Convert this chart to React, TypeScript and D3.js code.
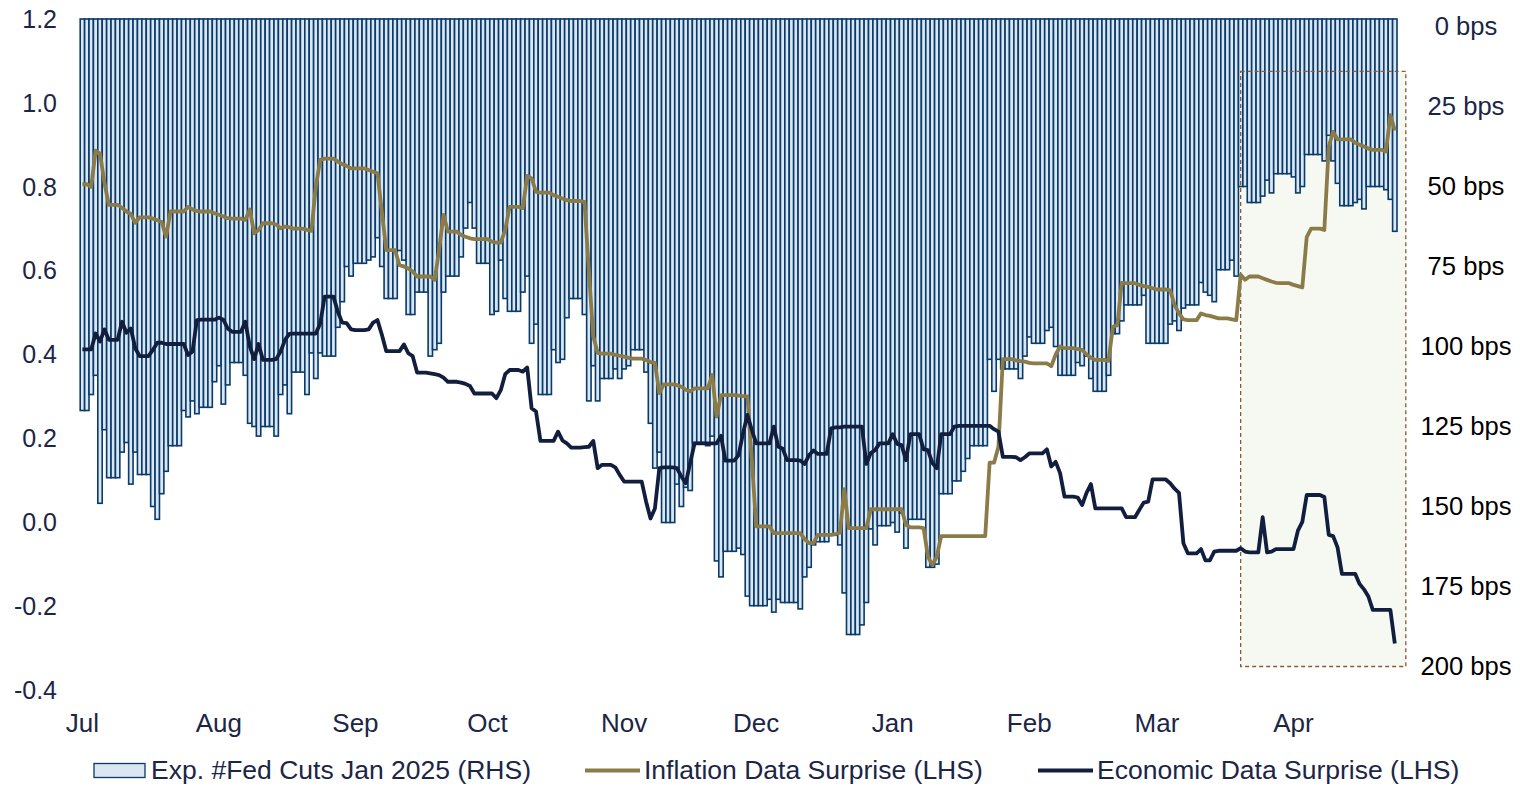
import React, { useEffect, useRef } from 'react';
import * as d3 from 'd3';

// daily series, Sat 1 Jul 2023 .. Wed 24 Apr 2024 (one row = one week, Sat..Fri)
const firstDay = new Date(Date.UTC(2023, 6, 1));
const lastDay = new Date(Date.UTC(2024, 3, 24));

const monthStarts = [
  Date.UTC(2023, 6, 1), Date.UTC(2023, 7, 1), Date.UTC(2023, 8, 1), Date.UTC(2023, 9, 1),
  Date.UTC(2023, 10, 1), Date.UTC(2023, 11, 1), Date.UTC(2024, 0, 1), Date.UTC(2024, 1, 1),
  Date.UTC(2024, 2, 1), Date.UTC(2024, 3, 1),
];
const monthLabels = ['Jul', 'Aug', 'Sep', 'Oct', 'Nov', 'Dec', 'Jan', 'Feb', 'Mar', 'Apr'];
const leftTicks = [-0.4, -0.2, 0, 0.2, 0.4, 0.6, 0.8, 1.0, 1.2];
const rightTicks = [0, 25, 50, 75, 100, 125, 150, 175, 200];

const fedCutsBps = [
  120, 120, 115, 109, 149, 126, 141,
  141, 141, 133, 130, 143, 133, 140,
  140, 140, 150, 154, 146, 139, 131,
  131, 131, 120, 122, 117, 121, 119,
  119, 119, 111, 106, 118, 112, 105,
  105, 105, 109, 124, 125, 128, 125,
  125, 125, 128, 115, 112, 121, 108,
  108, 108, 115, 102, 110, 102, 103,
  103, 103, 94, 86, 75, 78, 74,
  74, 74, 73, 72, 66, 75, 85,
  85, 85, 70, 73, 90, 90, 83,
  83, 83, 103, 101, 99, 83, 78,
  78, 78, 72, 63, 55, 63, 74,
  74, 74, 90, 89, 73, 85, 89,
  89, 89, 83, 78, 99, 93, 115,
  115, 115, 101, 105, 104, 91, 85,
  85, 85, 90, 117, 106, 117, 110,
  110, 110, 107, 110, 107, 106, 101,
  101, 101, 108, 124, 138, 133, 155,
  155, 155, 143, 150, 144, 145, 130,
  130, 130, 131, 128, 167, 172, 164,
  164, 164, 163, 165, 178, 181, 181,
  181, 181, 179, 183, 179, 180, 180,
  180, 180, 182, 172, 169, 162, 161,
  161, 161, 159, 159, 162, 177, 190,
  190, 190, 187, 180, 157, 162, 156,
  156, 156, 155, 158, 152, 163, 154,
  154, 154, 154, 169, 169, 168, 146,
  146, 146, 142, 142, 139, 135, 131,
  131, 131, 131, 104, 114, 104, 107,
  107, 107, 107, 110, 103, 97, 99,
  99, 99, 95, 94, 100, 109, 109,
  109, 109, 105, 106, 103, 110, 114,
  114, 114, 109, 96, 96, 92, 87,
  87, 87, 87, 84, 99, 99, 99,
  99, 99, 93, 92, 95, 88, 87,
  87, 87, 80, 83, 84, 86, 76,
  76, 76, 73, 78, 50, 50, 55,
  55, 55, 53, 48, 52, 46, 46,
  46, 46, 47, 52, 50, 40, 40,
  40, 40, 42, 34, 42, 49, 56,
  56, 56, 55, 54, 57, 50, 50,
  50, 50, 51, 54, 64,
];

const inflationSurprise = [
  0.806, 0.806, 0.800, 0.886, 0.879, 0.810, 0.757,
  0.757, 0.757, 0.750, 0.741, 0.735, 0.714, 0.727,
  0.727, 0.727, 0.724, 0.720, 0.716, 0.681, 0.741,
  0.741, 0.741, 0.741, 0.752, 0.746, 0.742, 0.741,
  0.741, 0.741, 0.737, 0.733, 0.729, 0.725, 0.724,
  0.724, 0.724, 0.721, 0.746, 0.689, 0.697, 0.713,
  0.713, 0.713, 0.710, 0.701, 0.705, 0.703, 0.700,
  0.700, 0.700, 0.697, 0.695, 0.800, 0.864, 0.867,
  0.867, 0.867, 0.860, 0.854, 0.850, 0.844, 0.844,
  0.844, 0.844, 0.840, 0.836, 0.832, 0.740, 0.649,
  0.649, 0.649, 0.613, 0.610, 0.605, 0.598, 0.586,
  0.586, 0.586, 0.586, 0.578, 0.650, 0.733, 0.693,
  0.693, 0.693, 0.685, 0.681, 0.677, 0.675, 0.675,
  0.675, 0.675, 0.669, 0.667, 0.667, 0.697, 0.752,
  0.752, 0.752, 0.749, 0.826, 0.820, 0.788, 0.786,
  0.786, 0.786, 0.780, 0.776, 0.772, 0.768, 0.766,
  0.766, 0.766, 0.764, 0.600, 0.443, 0.404, 0.402,
  0.402, 0.402, 0.399, 0.397, 0.395, 0.392, 0.390,
  0.390, 0.390, 0.387, 0.382, 0.380, 0.308, 0.329,
  0.329, 0.329, 0.327, 0.323, 0.316, 0.312, 0.319,
  0.319, 0.319, 0.319, 0.351, 0.252, 0.303, 0.303,
  0.303, 0.303, 0.302, 0.301, 0.300, 0.150, -0.010,
  -0.010, -0.010, -0.010, -0.026, -0.026, -0.026, -0.026,
  -0.026, -0.026, -0.026, -0.040, -0.050, -0.050, -0.030,
  -0.030, -0.030, -0.030, -0.028, -0.025, 0.079, -0.014,
  -0.014, -0.014, -0.014, -0.014, 0.031, 0.031, 0.031,
  0.031, 0.031, 0.031, 0.031, 0.031, -0.006, -0.012,
  -0.012, -0.012, -0.014, -0.082, -0.102, -0.082, -0.033,
  -0.033, -0.033, -0.033, -0.033, -0.033, -0.033, -0.033,
  -0.033, -0.033, -0.033, 0.142, 0.142, 0.180, 0.389,
  0.389, 0.389, 0.386, 0.384, 0.383, 0.380, 0.379,
  0.379, 0.379, 0.379, 0.372, 0.400, 0.419, 0.415,
  0.415, 0.415, 0.413, 0.411, 0.400, 0.392, 0.387,
  0.387, 0.387, 0.385, 0.466, 0.470, 0.571, 0.570,
  0.570, 0.570, 0.566, 0.563, 0.561, 0.558, 0.555,
  0.555, 0.555, 0.553, 0.518, 0.498, 0.484, 0.482,
  0.482, 0.482, 0.498, 0.494, 0.492, 0.489, 0.486,
  0.486, 0.486, 0.484, 0.482, 0.590, 0.578, 0.586,
  0.586, 0.586, 0.582, 0.578, 0.574, 0.571, 0.570,
  0.570, 0.570, 0.566, 0.563, 0.560, 0.680, 0.700,
  0.700, 0.700, 0.697, 0.896, 0.931, 0.913, 0.913,
  0.913, 0.913, 0.905, 0.900, 0.896, 0.891, 0.888,
  0.888, 0.888, 0.884, 0.971, 0.934,
];

const economicSurprise = [
  0.412, 0.412, 0.412, 0.450, 0.431, 0.460, 0.435,
  0.435, 0.435, 0.478, 0.452, 0.462, 0.415, 0.396,
  0.396, 0.396, 0.411, 0.428, 0.428, 0.425, 0.425,
  0.425, 0.425, 0.425, 0.399, 0.407, 0.482, 0.483,
  0.483, 0.483, 0.483, 0.488, 0.483, 0.462, 0.454,
  0.454, 0.454, 0.478, 0.420, 0.389, 0.425, 0.387,
  0.387, 0.387, 0.389, 0.407, 0.435, 0.449, 0.450,
  0.450, 0.450, 0.450, 0.450, 0.450, 0.474, 0.538,
  0.538, 0.538, 0.502, 0.476, 0.475, 0.460, 0.458,
  0.458, 0.458, 0.460, 0.476, 0.482, 0.447, 0.408,
  0.408, 0.408, 0.408, 0.424, 0.403, 0.396, 0.357,
  0.357, 0.357, 0.355, 0.353, 0.351, 0.345, 0.335,
  0.335, 0.335, 0.333, 0.330, 0.325, 0.307, 0.307,
  0.307, 0.307, 0.307, 0.296, 0.315, 0.353, 0.363,
  0.363, 0.363, 0.359, 0.369, 0.272, 0.264, 0.194,
  0.194, 0.194, 0.194, 0.216, 0.195, 0.188, 0.178,
  0.178, 0.178, 0.179, 0.180, 0.194, 0.129, 0.137,
  0.137, 0.137, 0.131, 0.113, 0.097, 0.097, 0.097,
  0.097, 0.097, 0.049, 0.009, 0.033, 0.129, 0.131,
  0.131, 0.131, 0.129, 0.109, 0.093, 0.141, 0.188,
  0.188, 0.188, 0.188, 0.188, 0.188, 0.206, 0.147,
  0.147, 0.147, 0.160, 0.212, 0.256, 0.220, 0.188,
  0.188, 0.188, 0.188, 0.228, 0.180, 0.176, 0.148,
  0.148, 0.148, 0.147, 0.139, 0.160, 0.171, 0.163,
  0.163, 0.163, 0.224, 0.226, 0.226, 0.228, 0.228,
  0.228, 0.228, 0.228, 0.139, 0.165, 0.172, 0.188,
  0.188, 0.188, 0.210, 0.187, 0.184, 0.148, 0.210,
  0.210, 0.210, 0.174, 0.172, 0.141, 0.129, 0.210,
  0.210, 0.210, 0.228, 0.230, 0.230, 0.230, 0.230,
  0.230, 0.230, 0.230, 0.230, 0.222, 0.216, 0.156,
  0.156, 0.156, 0.155, 0.148, 0.155, 0.164, 0.164,
  0.164, 0.164, 0.174, 0.133, 0.144, 0.117, 0.061,
  0.061, 0.061, 0.059, 0.041, 0.070, 0.091, 0.033,
  0.033, 0.033, 0.033, 0.033, 0.033, 0.033, 0.012,
  0.012, 0.012, 0.030, 0.047, 0.049, 0.102, 0.102,
  0.102, 0.102, 0.093, 0.080, 0.070, -0.050, -0.074,
  -0.074, -0.074, -0.064, -0.091, -0.091, -0.070, -0.068,
  -0.068, -0.068, -0.068, -0.068, -0.062, -0.070, -0.072,
  -0.072, -0.072, 0.012, -0.072, -0.070, -0.064, -0.064,
  -0.064, -0.064, -0.064, -0.020, 0.001, 0.065, 0.065,
  0.065, 0.065, 0.060, -0.030, -0.033, -0.060, -0.123,
  -0.123, -0.123, -0.123, -0.147, -0.160, -0.177, -0.209,
  -0.209, -0.209, -0.209, -0.209, -0.289,
];

// shaded "recent" window (dates and bps)
const highlightFrom = Date.UTC(2024, 2, 20);
const highlightTo = Date.UTC(2024, 3, 26, 12);
const highlightTopBps = 14;
const highlightBottomBps = 200;

const legendItems = [
  { label: 'Exp. #Fed Cuts Jan 2025 (RHS)', kind: 'bar', x: 94 },
  { label: 'Inflation Data Surprise (LHS)', kind: 'gold', x: 585 },
  { label: 'Economic Data Surprise (LHS)', kind: 'navy', x: 1038 },
];

const FONT = '"Liberation Sans", Arial, sans-serif';
const NAVY_TEXT = '#1b2646';
const BAR_FILL = '#dae6f2';
const BAR_STROKE = '#083a6a';
const GOLD = '#8b7b49';
const NAVY = '#121e3e';

export default function App() {
  const ref = useRef(null);

  useEffect(() => {
    const width = 1521,
      height = 787;
    const plotTop = 19,
      plotBottom = 690;

    const svg = d3.select(ref.current);
    svg.selectAll('*').remove();

    const days = d3.utcDays(firstDay, d3.utcDay.offset(lastDay, 1));

    const x = d3.scaleUtc().domain([firstDay, lastDay]).range([82.4, 1394.8]);
    const step = x(days[1]) - x(days[0]);

    const yLeft = d3.scaleLinear().domain([-0.4, 1.2]).range([plotBottom, plotTop]);
    // reversed right axis: 0 bps at top
    const yRight = d3.scaleLinear().domain([0, 200]).range([26.5, 666.5]);

    // highlight box fill behind bars
    const hx0 = x(new Date(highlightFrom)),
      hx1 = x(new Date(highlightTo));
    const hy0 = yRight(highlightTopBps),
      hy1 = yRight(highlightBottomBps);
    svg
      .append('rect')
      .attr('x', hx0)
      .attr('y', hy0)
      .attr('width', hx1 - hx0)
      .attr('height', hy1 - hy0)
      .attr('fill', '#f6f9f1');

    // bars hang from the top
    svg
      .append('g')
      .selectAll('rect')
      .data(days)
      .join('rect')
      .attr('x', d => x(d) - step / 2)
      .attr('y', plotTop)
      .attr('width', step)
      .attr('height', (d, i) => yRight(fedCutsBps[i]) - plotTop)
      .attr('fill', BAR_FILL)
      .attr('stroke', BAR_STROKE)
      .attr('stroke-width', 1.6);

    // dashed border on top of bars
    svg
      .append('rect')
      .attr('x', hx0)
      .attr('y', hy0)
      .attr('width', hx1 - hx0)
      .attr('height', hy1 - hy0)
      .attr('fill', 'none')
      .attr('stroke', '#8a5a3a')
      .attr('stroke-width', 1.3)
      .attr('stroke-dasharray', '4,3');

    const line = (values) =>
      d3
        .line()
        .x((d, i) => x(days[i]))
        .y(d => yLeft(d))(values);

    svg
      .append('path')
      .attr('d', line(inflationSurprise))
      .attr('fill', 'none')
      .attr('stroke', GOLD)
      .attr('stroke-width', 3.8)
      .attr('stroke-linejoin', 'round');

    svg
      .append('path')
      .attr('d', line(economicSurprise))
      .attr('fill', 'none')
      .attr('stroke', NAVY)
      .attr('stroke-width', 3.8)
      .attr('stroke-linejoin', 'round');

    // left axis labels (plain hyphen for negatives)
    svg
      .append('g')
      .selectAll('text')
      .data(leftTicks)
      .join('text')
      .attr('x', 57)
      .attr('y', d => yLeft(d))
      .attr('dy', '0.35em')
      .attr('text-anchor', 'end')
      .attr('font-size', 25)
      .attr('fill', NAVY_TEXT)
      .text(d => d.toFixed(1));

    // right axis labels
    svg
      .append('g')
      .selectAll('text')
      .data(rightTicks)
      .join('text')
      .attr('x', 1466)
      .attr('y', d => yRight(d))
      .attr('dy', '0.35em')
      .attr('text-anchor', 'middle')
      .attr('font-size', 25.6)
      .attr('fill', d => (d < 50 ? NAVY_TEXT : '#000'))
      .text(d => d + ' bps');

    // month labels
    svg
      .append('g')
      .selectAll('text')
      .data(monthStarts)
      .join('text')
      .attr('x', d => x(new Date(d)))
      .attr('y', 723)
      .attr('dy', '0.35em')
      .attr('text-anchor', 'middle')
      .attr('font-size', 26)
      .attr('fill', NAVY_TEXT)
      .text((d, i) => monthLabels[i]);

    // legend
    const lg = svg.append('g');
    legendItems.forEach(item => {
      if (item.kind === 'bar') {
        lg.append('rect')
          .attr('x', item.x)
          .attr('y', 763.5)
          .attr('width', 51)
          .attr('height', 14)
          .attr('fill', BAR_FILL)
          .attr('stroke', BAR_STROKE)
          .attr('stroke-width', 1.3);
      } else {
        lg.append('line')
          .attr('x1', item.x)
          .attr('x2', item.x + 55)
          .attr('y1', 770.5)
          .attr('y2', 770.5)
          .attr('stroke', item.kind === 'gold' ? GOLD : NAVY)
          .attr('stroke-width', 4);
      }
      lg.append('text')
        .attr('x', item.kind === 'bar' ? item.x + 57 : item.x + 59)
        .attr('y', 770)
        .attr('dy', '0.35em')
        .attr('font-size', 26.5)
        .attr('fill', NAVY_TEXT)
        .text(item.label);
    });

    svg.attr('width', width).attr('height', height);
  }, []);

  return (
    <svg
      ref={ref}
      width={1521}
      height={787}
      style={{ position: 'absolute', left: 0, top: 0, fontFamily: FONT, fontSize: 25, background: '#fff' }}
    />
  );
}
